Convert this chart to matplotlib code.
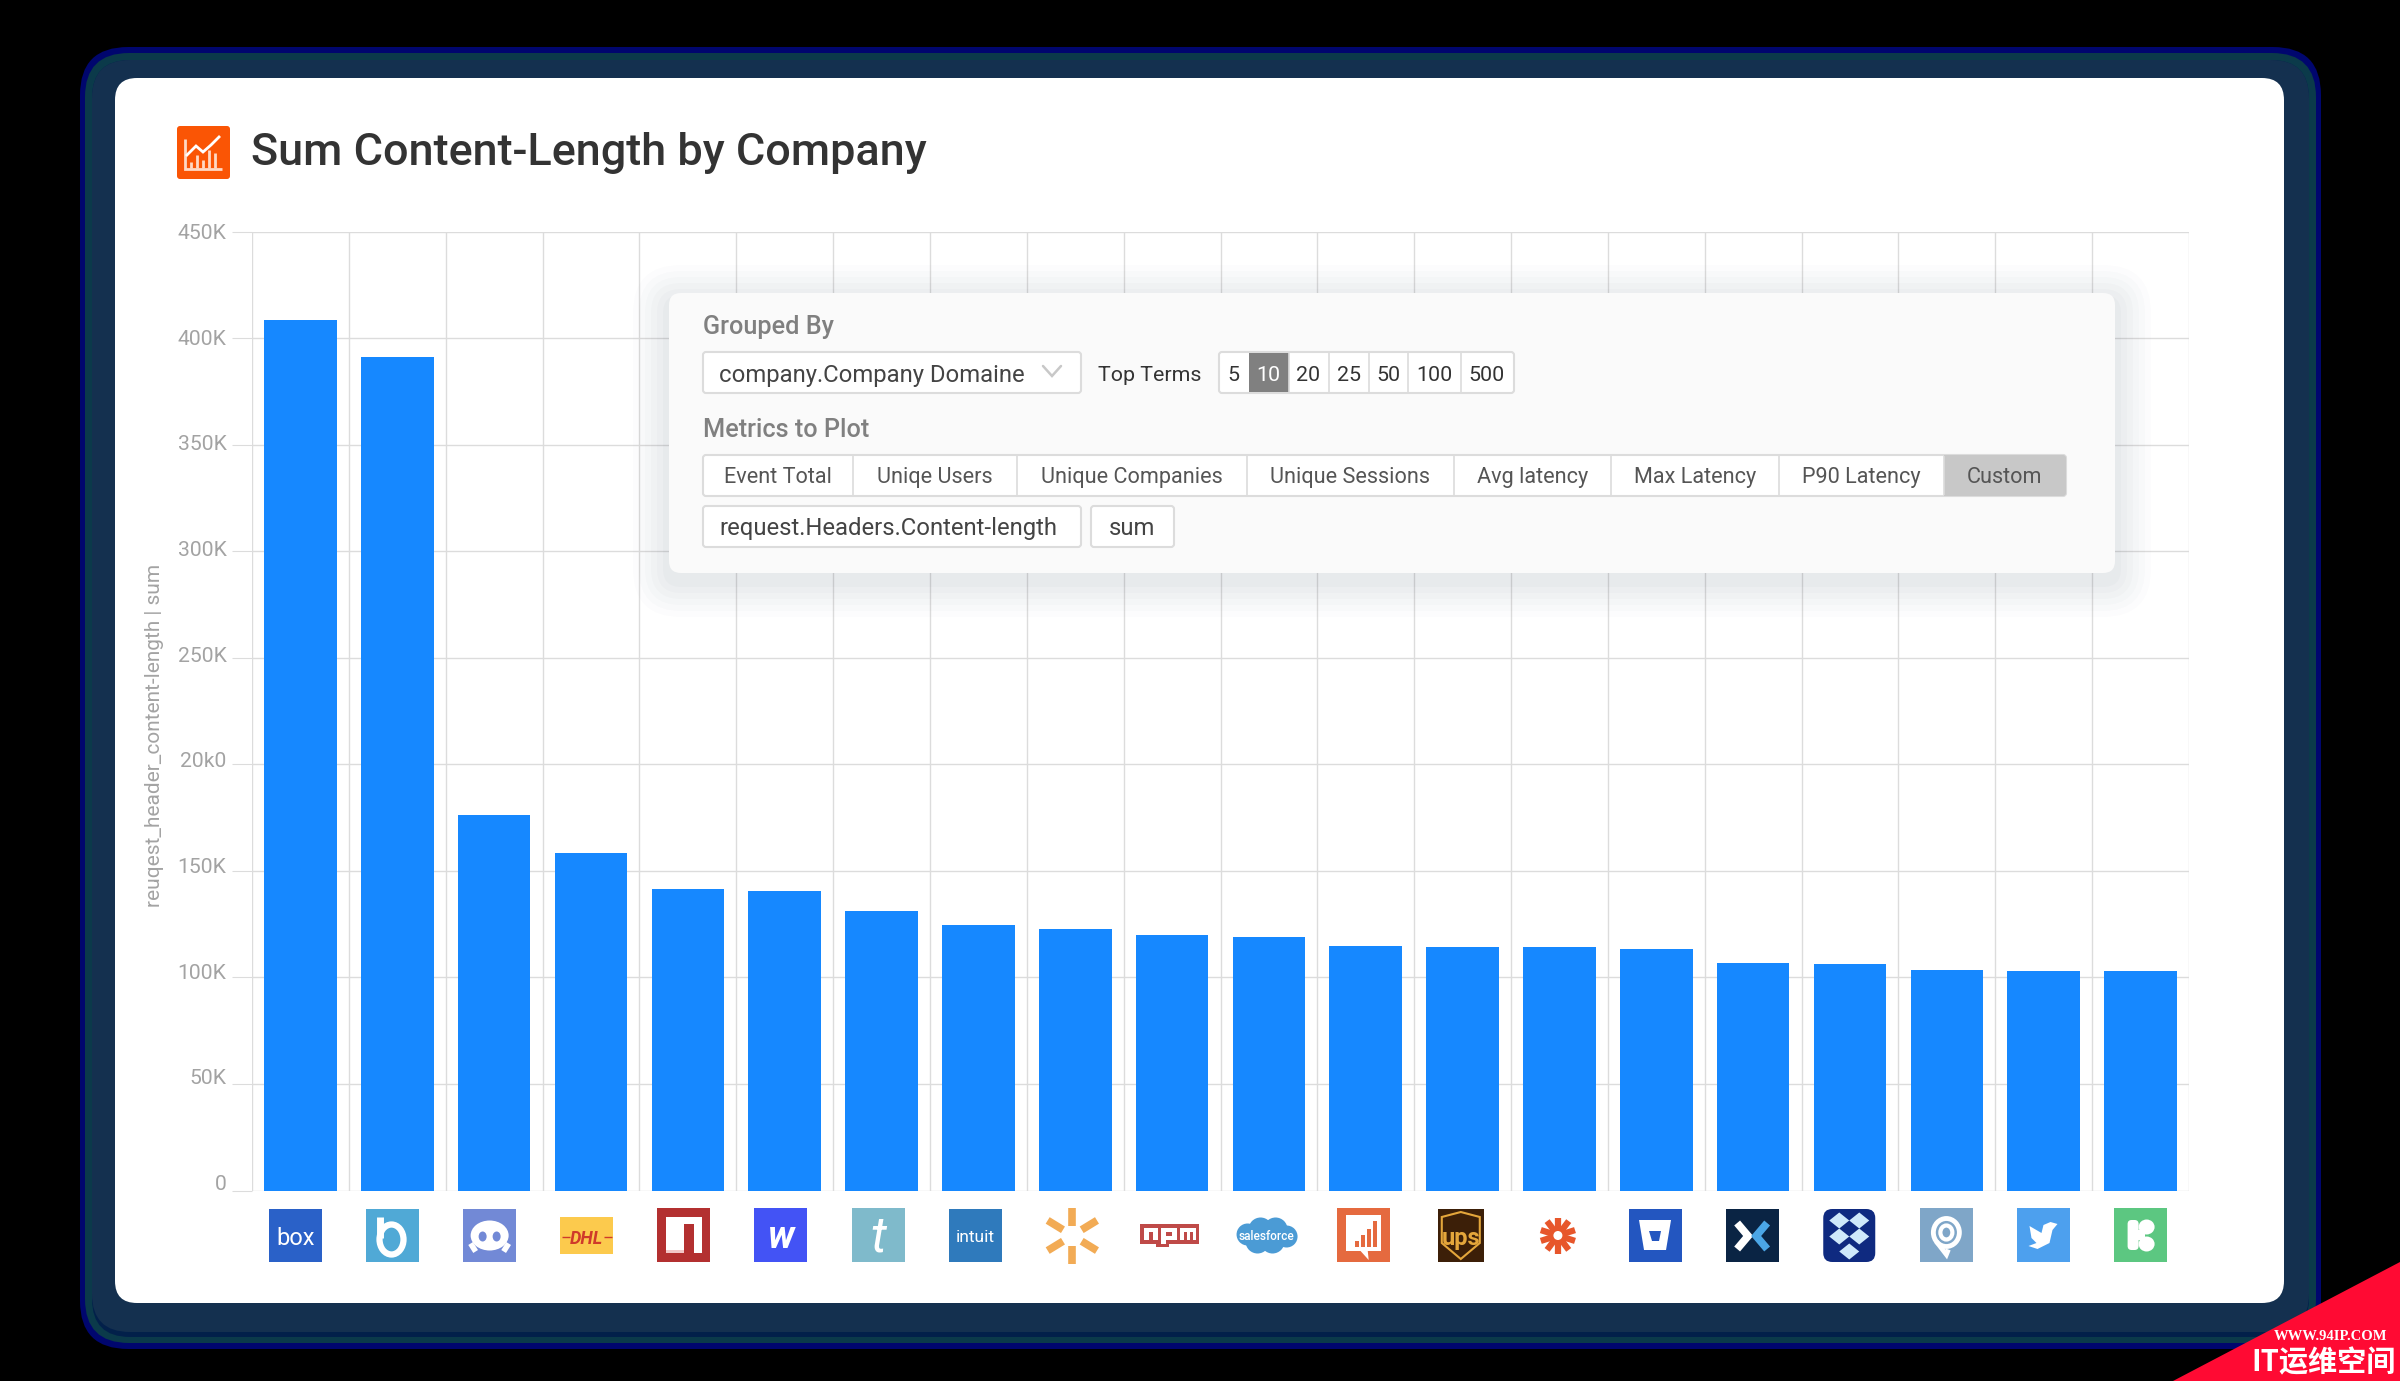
import matplotlib
matplotlib.use("Agg")
import matplotlib.pyplot as plt
from matplotlib.patches import FancyBboxPatch, Rectangle, Polygon, Ellipse, Circle
from matplotlib.ticker import FixedLocator, FixedFormatter
from matplotlib.transforms import ScaledTranslation

companies = ["box", "bonfire", "discord", "dhl", "npmjs", "webflow", "tumblr", "intuit", "walmart", "npm",
             "salesforce", "chartio", "ups", "zapier", "bitbucket", "mixpanel", "dropbox", "pagerduty", "twitter", "kickstarter"]
values_k = [408.6, 391.1, 176.4, 158.3, 141.5, 140.7, 131.0, 124.6, 122.9, 119.9,
            118.8, 114.7, 114.3, 114.3, 113.2, 106.9, 106.4, 103.3, 102.9, 102.9]
y_ticks_k = [0, 50, 100, 150, 200, 250, 300, 350, 400, 450]
y_tick_labels = ["0", "50K", "100K", "150K", "20k0", "250K", "300K", "350K", "400K", "450K"]
y_label = "reuqest_header_content-length | sum"
title = "Sum Content-Length by Company"
top_terms = ["5", "10", "20", "25", "50", "100", "500"]
metrics = ["Event Total", "Uniqe Users", "Unique Companies", "Unique Sessions", "Avg latency", "Max Latency", "P90 Latency", "Custom"]

W, H = 2400, 1381
FONT = "Roboto"
plt.rcParams["font.family"] = [FONT, "DejaVu Sans"]
fig = plt.figure(figsize=(W / 100, H / 100), dpi=100, facecolor="black")

# page background layer (pixel coordinates)
bg = fig.add_axes([0, 0, 1, 1], zorder=0)
bg.set_xlim(0, W); bg.set_ylim(H, 0); bg.axis("off")


def rbox(a, x0, y0, x1, y1, r, fc, ec="none", lw=0, z=12, alpha=None):
    p = FancyBboxPatch((x0 + r, y0 + r), x1 - x0 - 2 * r, y1 - y0 - 2 * r,
                       boxstyle=f"round,pad={r},rounding_size={r}", fc=fc, ec=ec, lw=lw, zorder=z, alpha=alpha)
    a.add_patch(p)
    return p


rbox(bg, 80, 47, 2321, 1349, 48, "#00066e", z=1)
rbox(bg, 85, 53, 2316, 1343, 44, "#0b3a4a", z=1.1)
rbox(bg, 92, 60, 2309, 1337, 38, "#02204a", z=1.2)
rbox(bg, 92, 60, 2309, 1332, 38, "#14304f", z=1.3)
rbox(bg, 115, 78, 2284, 1303, 22, "white", z=2)

# chart
L, R, T, B = 252, 2189, 231.5, 1190.5
ax = fig.add_axes([L / W, 1 - B / H, (R - L) / W, (B - T) / H], zorder=1)
ax.patch.set_alpha(0)
x = list(range(len(companies)))
ax.bar(x, values_k, width=0.75, color="#1688ff", zorder=3)
ax.set_xlim(-0.5, len(companies) - 0.5)
ax.set_ylim(0, 450)
ax.yaxis.set_major_locator(FixedLocator(y_ticks_k))
ax.yaxis.set_major_formatter(FixedFormatter(y_tick_labels))
ax.xaxis.set_major_locator(FixedLocator([i - 0.5 for i in range(len(companies) + 1)]))
ax.xaxis.set_major_formatter(FixedFormatter([""] * (len(companies) + 1)))
ax.grid(True, color="#dcdcdc", lw=1.0, zorder=0)
ax.tick_params(axis="x", length=0)
ax.tick_params(axis="y", length=14.4, width=0.8, color="#dcdcdc", labelcolor="#a3a3a3", labelsize=15.2, pad=4)
# the reference's labels drift above their gridlines, by 8 px at 0 and none at the top
fig.canvas.draw()
for tick, v in zip(ax.yaxis.get_major_ticks(), y_ticks_k):
    lab = tick.label1
    lab.set_transform(lab.get_transform() + ScaledTranslation(0, 8 * (1 - v / 450) / 100, fig.dpi_scale_trans))
for s in ax.spines.values():
    s.set_visible(False)
ax.set_ylabel(y_label, color="#a3a3a3", fontsize=15.0)
ax.yaxis.set_label_coords((164 - L) / (R - L), (B - 735) / (B - T))

# overlay (pixel coordinates)
ov = fig.add_axes([0, 0, 1, 1], zorder=5)
ov.set_xlim(0, W); ov.set_ylim(H, 0); ov.axis("off")
ov.patch.set_alpha(0)


def txt(x, y, s, size=15, color="#333333", ha="left", weight="normal", **kw):
    ov.text(x, y - 1.5, s, fontsize=size, color=color, ha=ha, va="center_baseline", fontweight=weight, zorder=kw.pop("z", 20), **kw)


def rect(x0, y0, x1, y1, fc, ec="none", lw=0, z=12):
    ov.add_patch(Rectangle((x0, y0), x1 - x0, y1 - y0, fc=fc, ec=ec, lw=lw, zorder=z))


def line(xs, ys, c="white", lw=2, z=14, cap="butt"):
    ov.plot(xs, ys, color=c, lw=lw, zorder=z, solid_capstyle=cap, solid_joinstyle="miter")


# header
rbox(ov, 177, 126, 230, 179, 3, "#fa5505", z=12)
line([185, 185, 222], [139, 169, 169], "#ffd9c4", 2)
for bx, by in zip([191, 197, 203, 209, 215], [162, 155, 160, 150, 153]):
    line([bx, bx], [by, 168], "#ffd9c4", 2)
line([186, 196, 203, 211, 220], [156, 146, 152, 145, 136], "#ffffff", 2)
txt(251, 150, title, size=32.4, color="#333333", weight="medium")

# floating panel
for i, a in enumerate([0.012, 0.014, 0.016, 0.018, 0.02, 0.022]):
    g = 36 - i * 6
    rbox(ov, 669 - g, 293 - g + 8, 2115 + g, 573 + g + 8, 12 + g, "#33445a", z=10, alpha=a)
rbox(ov, 669, 293, 2115, 573, 12, "#fafafa", z=11)

BORD = "#dcdcdc"
txt(703, 326, "Grouped By", size=18.2, color="#808080", weight="medium")
txt(703, 429, "Metrics to Plot", size=18.2, color="#808080", weight="medium")

# selector
rbox(ov, 703, 352, 1081, 393, 3, "white", BORD, 1.5)
txt(719, 374, "company.Company Domaine", size=17.2, color="#444444")
line([1043, 1052, 1061], [366, 376, 366], "#c8c8c8", 1.8, cap="round")
txt(1098, 375, "Top Terms", size=15.4, color="#333333")

# top-term buttons
edges = [1219, 1249, 1289, 1329, 1369, 1408, 1461, 1514]
rbox(ov, 1219, 352, 1514, 393, 3, "white", BORD, 1.5)
rect(1249, 353, 1289, 392, "#808080", z=13)
for e in edges[2:-1]:
    line([e, e], [353, 392], BORD, 1.2)
for i, t in enumerate(top_terms):
    txt((edges[i] + edges[i + 1]) / 2 - 0.5, 375, t, size=15.4, color="white" if t == "10" else "#333333", ha="center")

# metric tabs
tabs = [703, 853, 1017, 1246.5, 1454, 1611, 1779, 1944, 2066]
rbox(ov, 703, 455, 2066, 496, 3, "white", BORD, 1.5)
rbox(ov, 1944, 455, 2066, 496, 3, "#c8c8c8", z=12.5)
rect(1944, 455, 1960, 496, "#c8c8c8", z=12.6)
for e in tabs[1:-1]:
    line([e, e], [456, 495], BORD, 1.2)
for i, t in enumerate(metrics):
    txt((tabs[i] + tabs[i + 1]) / 2, 476, t, size=15.6, color="#555555", ha="center")

# custom metric inputs
rbox(ov, 703, 506, 1081, 547, 3, "white", BORD, 1.5)
txt(719, 527, "request.Headers.Content-length", size=17.2, color="#444444")
rbox(ov, 1091, 506, 1174, 547, 3, "white", BORD, 1.5)
txt(1132.5, 527, "sum", size=17.2, color="#444444", ha="center")


# logos: one drawn under each bar
def logo_box(cx, w, fc, y0=1209, y1=1262):
    rect(cx - w / 2, y0, cx + w / 2, y1, fc)


def draw_logo(name, cx):
    cy = 1235.5
    if name == "box":
        logo_box(cx, 53, "#2a61c8")
        txt(cx, cy + 2, "box", size=17, color="white", ha="center")
    elif name == "bonfire":
        logo_box(cx, 53, "#50a9d6")
        line([cx - 13, cx - 13], [cy - 19, cy + 2], "white", 5)
        ov.add_patch(Ellipse((cx - 1, cy + 4), 24, 30, fc="none", ec="white", lw=4.5, zorder=14))
    elif name == "discord":
        logo_box(cx, 53, "#7289d6")
        ov.add_patch(Ellipse((cx, cy), 38, 30, fc="white", zorder=14))
        line([cx - 19, cx - 14], [cy + 8, cy + 16], "white", 4)
        line([cx + 19, cx + 14], [cy + 8, cy + 16], "white", 4)
        for d in (-7, 7):
            ov.add_patch(Ellipse((cx + d, cy + 1), 8, 10, fc="#7289d6", zorder=15))
    elif name == "dhl":
        logo_box(cx, 53, "#fcca4d", 1217, 1254)
        line([cx - 25, cx - 17], [1237, 1237], "#cf3a2a", 1)
        line([cx + 17, cx + 25], [1237, 1237], "#cf3a2a", 1)
        txt(cx, 1238, "DHL", size=13, color="#cf3a2a", ha="center", weight="bold", style="italic", z=16)
    elif name == "npmjs":
        logo_box(cx, 53, "#b33030", 1208, 1262)
        rect(cx - 18, 1217, cx + 18, 1253, "white", z=13)
        rect(cx, 1224, cx + 10, 1253, "#b33030", z=14)
        rect(cx - 18, 1250, cx, 1253, "#f2c7c7", z=14)
    elif name == "webflow":
        logo_box(cx, 53, "#4353f5", 1208, 1262)
        txt(cx, cy, "w", size=27, color="white", ha="center", weight="bold", style="italic")
    elif name == "tumblr":
        logo_box(cx, 53, "#7fbacb", 1208, 1262)
        txt(cx, cy - 1, "t", size=36, color="white", ha="center", style="italic")
    elif name == "intuit":
        logo_box(cx, 53, "#2f7abc")
        txt(cx, cy + 2, "intuit", size=12.5, color="white", ha="center")
    elif name == "walmart":
        c = "#f2ab55"
        for (dx, dy) in [(0, -1), (0, 1), (0.85, -0.52), (-0.85, -0.52), (0.85, 0.52), (-0.85, 0.52)]:
            r0, r1 = (10, 28) if dx == 0 else (11, 29)
            line([cx + dx * r0, cx + dx * r1], [cy + dy * r0, cy + dy * r1], c, 5.5)
    elif name == "npm":
        c = "#bf4a48"
        x0 = cx - 29.5
        rect(x0, 1224, x0 + 59, 1244, c)
        rect(x0 + 16, 1244, x0 + 29, 1247, c)
        rect(x0 + 4, 1228, x0 + 18, 1240, "white", z=13)
        rect(x0 + 9, 1232, x0 + 13, 1240, c, z=14)
        rect(x0 + 21, 1228, x0 + 37, 1240, "white", z=13)
        rect(x0 + 21, 1240, x0 + 26, 1244, "white", z=13)
        rect(x0 + 26, 1232, x0 + 32, 1236, c, z=14)
        rect(x0 + 40, 1228, x0 + 56, 1240, "white", z=13)
        rect(x0 + 44, 1232, x0 + 47, 1240, c, z=14)
        rect(x0 + 50, 1232, x0 + 53, 1240, c, z=14)
    elif name == "salesforce":
        c = "#4b9bd5"
        for dx, dy, r in [(-19, -1, 11), (-6, -6, 12), (9, -6, 12), (20, 1, 11), (6, 6, 12), (-9, 6, 12)]:
            ov.add_patch(Circle((cx + dx, cy + dy), r, fc=c, zorder=13))
        txt(cx, cy + 1, "salesforce", size=8.6, color="white", ha="center", weight="medium")
    elif name == "chartio":
        logo_box(cx, 53, "#e56a3f", 1208, 1262)
        rect(cx - 18, 1215, cx + 17, 1251, "white", z=13)
        ov.add_patch(Polygon([(cx - 4, 1250), (cx + 4, 1250), (cx + 5, 1260)], fc="white", zorder=13))
        for k, bh in enumerate([6, 12, 18, 26]):
            rect(cx - 9 + k * 6, 1247 - bh, cx - 5 + k * 6, 1247, "#e56a3f", z=14)
    elif name == "ups":
        logo_box(cx, 46, "#3c1f08")
        ov.add_patch(Polygon([(cx - 19, 1217), (cx, 1212), (cx + 19, 1217), (cx + 19, 1243), (cx, 1259), (cx - 19, 1243)],
                             fc="#3c1f08", ec="#e4a63b", lw=1.5, zorder=13))
        txt(cx, cy + 2, "ups", size=17, color="#e4a63b", ha="center", weight="bold")
    elif name == "zapier":
        c = "#e7562b"
        for dx, dy in [(0, 1), (0.6, 0.8), (0.95, 0.3), (0.95, -0.3), (0.6, -0.8)]:
            line([cx - dx * 18, cx + dx * 18], [cy - dy * 18, cy + dy * 18], c, 4.5)
        ov.add_patch(Circle((cx, cy), 4.5, fc="white", zorder=15))
    elif name == "bitbucket":
        logo_box(cx, 53, "#2356c0")
        ov.add_patch(Polygon([(cx - 16, 1220), (cx + 16, 1220), (cx + 11, 1250), (cx - 11, 1250)], fc="white", zorder=13))
        ov.add_patch(Polygon([(cx - 6, 1231), (cx + 6, 1231), (cx + 4, 1241), (cx - 3, 1241)], fc="#2356c0", zorder=14))
    elif name == "mixpanel":
        logo_box(cx, 53, "#0a2444")
        line([cx - 15, cx - 4, cx - 15], [1223, 1236, 1249], "white", 5.5)
        line([cx + 15, cx + 4, cx + 15], [1223, 1236, 1249], "#4ba6e6", 5.5)
    elif name == "dropbox":
        rbox(ov, cx - 26, 1209, cx + 26, 1262, 9, "#0f2a80", z=12)
        for dx, dy in [(-10, -15), (10, -15), (-10, 1), (10, 1), (0, 16)]:
            ov.add_patch(Polygon([(cx + dx, cy + dy - 8), (cx + dx + 10, cy + dy), (cx + dx, cy + dy + 8), (cx + dx - 10, cy + dy)],
                                 fc="#cfe9fb", zorder=13))
    elif name == "pagerduty":
        logo_box(cx, 53, "#7fa6c8", 1208, 1262)
        ov.add_patch(Ellipse((cx, cy - 3), 26, 28, fc="none", ec="white", lw=3.5, zorder=14))
        ov.add_patch(Ellipse((cx, cy - 3), 12, 14, fc="none", ec="white", lw=3, zorder=14))
        line([cx - 10, cx, cx + 2], [cy + 6, cy + 19, cy + 14], "white", 3.5)
    elif name == "twitter":
        logo_box(cx, 53, "#4da0ee", 1208, 1262)
        ov.add_patch(Polygon([(cx - 14, 1226), (cx - 2, 1233), (cx, 1225), (cx + 7, 1222), (cx + 14, 1224), (cx + 9, 1230),
                              (cx + 6, 1243), (cx - 6, 1249), (cx - 15, 1246), (cx - 7, 1243), (cx - 12, 1238)],
                             fc="white", zorder=13))
    elif name == "kickstarter":
        logo_box(cx, 53, "#5cc781", 1208, 1262)
        rbox(ov, cx - 13, 1220, cx - 2, 1250, 4, "white", z=13)
        ov.add_patch(Ellipse((cx + 6, 1227), 16, 15, fc="white", zorder=13))
        ov.add_patch(Ellipse((cx + 6, 1244), 16, 15, fc="white", zorder=13))
        rect(cx - 4, 1230, cx + 4, 1240, "white", z=13)


LOGO_FIRST, LOGO_LAST = 295.4, 2140.6
for i, name in enumerate(companies):
    draw_logo(name, LOGO_FIRST + i * (LOGO_LAST - LOGO_FIRST) / (len(companies) - 1))

# corner watermark
ov.add_patch(Polygon([(2173, H), (W, 1262), (W, H)], fc="#ff0a33", zorder=30))
ov.text(2331, 1337, "WWW.94IP.COM", fontsize=10.5, family="Liberation Serif", fontweight="bold", color="white",
        ha="center", va="center", zorder=31)
ov.text(2324, 1362, "IT运维空间", fontsize=21, family=["Noto Sans CJK SC", "DejaVu Sans"], fontweight="bold", color="white",
        ha="center", va="center", zorder=31)

fig.savefig("out.png", dpi=100, facecolor="black")
